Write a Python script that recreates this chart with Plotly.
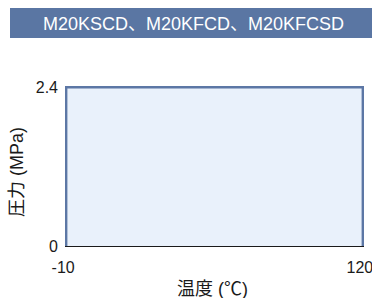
import plotly.graph_objects as go

# Data
temps = [-10, -10, 120, 120]        # 温度 (℃)
pressures = [0, 2.4, 2.4, 0]        # 圧力 (MPa)
x_ticks = [-10, 120]
y_ticks = [0, 2.4]
x_tick_labels = ["-10", "120"]
y_tick_labels = ["0", "2.4"]
title_text = "M20KSCD、M20KFCD、M20KFCSD"

LATIN = "Liberation Sans, Arial, Noto Sans CJK JP, sans-serif"
CJK = "Liberation Sans, Noto Sans CJK JP, sans-serif"

W, H = 372, 298
L, R, T, B = 65, 8, 86, 52
pw = W - L - R
ph = H - T - B

def px_x(p):
    return (p - L) / pw

def px_y(p):
    return (H - B - p) / ph

fig = go.Figure()
fig.add_trace(go.Scatter(
    x=temps, y=pressures, mode="lines",
    line=dict(color="rgb(92,119,165)", width=2.5),
    fill="tozeroy", fillcolor="rgb(233,241,251)",
    hoverinfo="skip", showlegend=False,
))

fig.update_layout(
    width=W, height=H, autosize=False,
    margin=dict(l=L, r=R, t=T, b=B, pad=0, autoexpand=False),
    paper_bgcolor="white", plot_bgcolor="white",
    font=dict(family=LATIN, size=16, color="#1a1a1a"),
    xaxis=dict(
        range=[-10.5, 120.5], tickvals=x_ticks, ticktext=x_tick_labels,
        showgrid=False, zeroline=False, showline=True, linecolor="#1a1a1a",
        linewidth=1.3, ticks="", ticklabelstandoff=7, ticklabelshift=-3,
        ticklabeloverflow="allow", automargin=False, tickfont=dict(size=16),
    ),
    yaxis=dict(
        range=[0, 2.42], tickvals=y_ticks, ticktext=y_tick_labels,
        showgrid=False, zeroline=False, showline=False, ticks="",
        ticklabelstandoff=6, automargin=False, tickfont=dict(size=16),
    ),
    shapes=[dict(
        type="rect", xref="paper", yref="paper",
        x0=px_x(10), x1=px_x(W), y0=px_y(38), y1=px_y(8),
        fillcolor="rgb(90,118,163)", line=dict(width=0), layer="above",
    )],
    annotations=[
        dict(text=title_text, xref="paper", yref="paper",
             x=px_x(193), y=px_y(23.5), showarrow=False,
             font=dict(family=CJK, size=18, color="white"),
             xanchor="center", yanchor="middle"),
        dict(text="圧力 (MPa)", xref="paper", yref="paper",
             x=px_x(17), y=px_y(172), showarrow=False, textangle=-90,
             font=dict(family=CJK, size=18, color="#1a1a1a"),
             xanchor="center", yanchor="middle"),
        dict(text="温度 (℃)", xref="paper", yref="paper",
             x=px_x(212), y=px_y(289), showarrow=False,
             font=dict(family=CJK, size=18, color="#1a1a1a"),
             xanchor="center", yanchor="middle"),
    ],
)

fig.write_html(
    "out.html",
    config={"displayModeBar": False},
    post_script="document.body.style.margin='0';document.body.style.overflow='hidden';",
)
